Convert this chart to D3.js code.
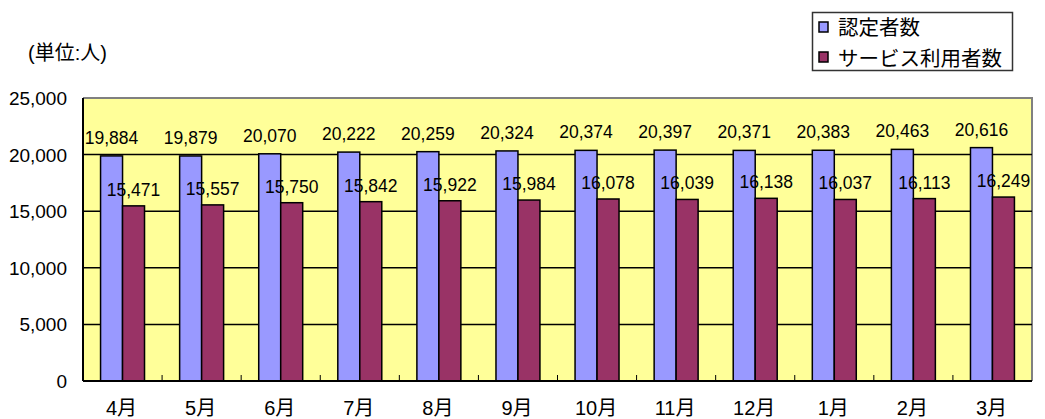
<!DOCTYPE html>
<html lang="ja">
<head>
<meta charset="UTF-8">
<script src="https://cdn.jsdelivr.net/npm/d3@7"></script>
<style>
body { margin:0; background:#fff; }
text { font-family: "Liberation Sans", Arial, "Noto Sans CJK JP", sans-serif; fill:#000; }
</style>
<title>認定者数・サービス利用者数</title>
</head>
<body>
<script>
// data
var months = ["4月","5月","6月","7月","8月","9月","10月","11月","12月","1月","2月","3月"];
var nintei = [19884,19879,20070,20222,20259,20324,20374,20397,20371,20383,20463,20616];
var service = [15471,15557,15750,15842,15922,15984,16078,16039,16138,16037,16113,16249];
var yTicks = [0,5000,10000,15000,20000,25000];
var seriesNames = ["認定者数","サービス利用者数"];
var colors = ["#9999ff","#993366"];

var W = 1045, H = 419;
var plot = {left: 83, right: 1032, top: 98, bottom: 381};

var svg = d3.select("body").append("svg")
    .attr("width", W)
    .attr("height", H);

var x = d3.scaleBand()
    .domain(months)
    .range([plot.left, plot.right])
    .paddingInner(0)
    .paddingOuter(0);

var barW = x.bandwidth() * 0.278;

var y = d3.scaleLinear()
    .domain([0, 25000])
    .range([plot.bottom, plot.top]);

// plot background
svg.append("rect")
    .attr("x", plot.left)
    .attr("y", plot.top)
    .attr("width", plot.right - plot.left)
    .attr("height", plot.bottom - plot.top)
    .attr("fill", "#ffff99");

// gray top/right frame
svg.append("path")
    .attr("d", "M" + plot.left + "," + plot.top + "H" + plot.right + "V" + plot.bottom)
    .attr("fill", "none")
    .attr("stroke", "#808080")
    .attr("stroke-width", 2);

// gridlines
svg.selectAll(".grid").data(yTicks.filter(function(d){ return d > 0 && d < 25000; })).enter()
  .append("line")
    .attr("x1", plot.left)
    .attr("x2", plot.right)
    .attr("y1", function(d){ return y(d); })
    .attr("y2", function(d){ return y(d); })
    .attr("stroke", "#000")
    .attr("stroke-width", 1.5);

var data = months.map(function(m, i) {
  return {month: m, vals: [nintei[i], service[i]]};
});

var groups = svg.selectAll(".grp").data(data).enter()
  .append("g");

groups.selectAll("rect").data(function(d){
    return d.vals.map(function(v, k){ return {month: d.month, v: v, k: k}; });
  }).enter()
  .append("rect")
    .attr("x", function(d){ return x(d.month) + x.bandwidth()/2 - barW + d.k * barW; })
    .attr("y", function(d){ return y(d.v); })
    .attr("width", barW)
    .attr("height", function(d){ return plot.bottom - y(d.v); })
    .attr("fill", function(d){ return colors[d.k]; })
    .attr("stroke", "#000")
    .attr("stroke-width", 1.5);

groups.selectAll("text").data(function(d){
    return d.vals.map(function(v, k){ return {month: d.month, v: v, k: k}; });
  }).enter()
  .append("text")
    .attr("x", function(d){ return x(d.month) + x.bandwidth()/2 - barW/2 + d.k * barW; })
    .attr("y", function(d){ return y(d.v) - (d.k === 0 ? 12 : 10); })
    .attr("text-anchor", "middle")
    .style("font-size", "17.5px")
    .text(function(d){ return d3.format(",")(d.v); });

// axes
svg.append("line")
    .attr("x1", plot.left).attr("x2", plot.left)
    .attr("y1", plot.top).attr("y2", plot.bottom)
    .attr("stroke", "#000").attr("stroke-width", 2);
svg.append("line")
    .attr("x1", plot.left).attr("x2", plot.right)
    .attr("y1", plot.bottom).attr("y2", plot.bottom)
    .attr("stroke", "#000").attr("stroke-width", 2);

// x ticks at category boundaries (pointing up)
svg.selectAll(".xtick").data(months.slice(1)).enter()
  .append("line")
    .attr("x1", function(d){ return x(d); })
    .attr("x2", function(d){ return x(d); })
    .attr("y1", plot.bottom)
    .attr("y2", plot.bottom - 6)
    .attr("stroke", "#000");

svg.selectAll(".ylab").data(yTicks).enter()
  .append("text")
    .attr("x", 67)
    .attr("y", function(d){ return y(d) + 7; })
    .attr("text-anchor", "end")
    .style("font-size", "19px")
    .text(function(d){ return d3.format(",")(d); });

svg.selectAll(".xlab").data(months).enter()
  .append("text")
    .attr("x", function(d){ return x(d) + x.bandwidth()/2 - 1; })
    .attr("y", 415)
    .attr("text-anchor", "middle")
    .style("font-size", "20px")
    .text(function(d){ return d; });

// unit label
svg.append("text")
    .attr("x", 28)
    .attr("y", 60)
    .style("font-size", "20px")
    .text("(単位:人)");

// legend
var lg = svg.append("g");
lg.append("rect")
    .attr("x", 812.5).attr("y", 12.5)
    .attr("width", 200).attr("height", 58)
    .attr("fill", "#fff")
    .attr("stroke", "#333")
    .attr("stroke-width", 1.5);
seriesNames.forEach(function(n, i) {
  lg.append("rect")
      .attr("x", 819).attr("y", 22 + i * 30)
      .attr("width", 9).attr("height", 10)
      .attr("fill", colors[i])
      .attr("stroke", "#000")
      .attr("stroke-width", 1.5);
  lg.append("text")
      .attr("x", 838).attr("y", 35 + i * 31)
      .style("font-size", "20.5px")
      .text(n);
});
</script>
</body>
</html>
